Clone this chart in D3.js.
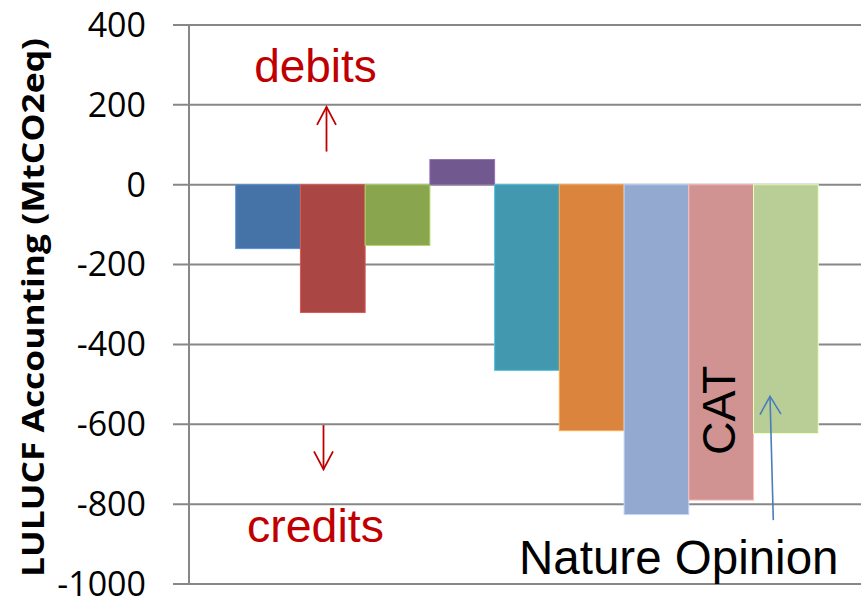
<!DOCTYPE html>
<html>
<head>
<meta charset="utf-8">
<script src="https://cdn.jsdelivr.net/npm/d3@7/dist/d3.min.js"></script>
<style>
  html, body { margin: 0; padding: 0; background: #fff; }
  svg { display: block; }
</style>
</head>
<body>
<svg id="chart" width="861" height="600"></svg>
<script>
// ---- data ----
const series = ["S1", "S2", "S3", "S4", "S5", "S6", "S7", "S8", "S9"];
const values = [-160, -320, -152, 63, -465, -616, -826, -790, -623];
const colors = ["#4572A7", "#AA4643", "#89A54E", "#71588F", "#4198AF",
                "#DB843D", "#93A9CF", "#D19392", "#B9CD96"];
const yTicks = [400, 200, 0, -200, -400, -600, -800, -1000];
const yLabel = "LULUCF Accounting (MtCO2eq)";

// ---- layout ----
const W = 861, H = 600;
const plot = { left: 189, right: 860, top: 25, bottom: 584 };
const svg = d3.select("#chart");

const y = d3.scaleLinear().domain([-1000, 400]).range([plot.bottom, plot.top]);
const x = d3.scaleBand().domain(series).range([plot.left, plot.right])
  .paddingInner(0).paddingOuter(0.683).align(0.528);

// gridlines + ticks
const grid = svg.append("g");
grid.selectAll("line").data(yTicks).join("line")
  .attr("x1", plot.left - 16).attr("x2", plot.right + 1)
  .attr("y1", d => y(d)).attr("y2", d => y(d))
  .attr("stroke", "#878787").attr("stroke-width", 2);

// y axis line
svg.append("line")
  .attr("x1", plot.left).attr("x2", plot.left)
  .attr("y1", y(400)).attr("y2", y(-1000))
  .attr("stroke", "#878787").attr("stroke-width", 2);

// tick labels
svg.append("g").selectAll("text").data(yTicks).join("text")
  .attr("x", 146).attr("y", d => y(d)).attr("dy", "0.35em")
  .attr("text-anchor", "end")
  .attr("font-family", "'Open Sans', sans-serif")
  .attr("font-size", 34)
  .attr("font-weight", 500)
  .attr("fill", "#000")
  .text(d => d);

// bars
svg.append("g").selectAll("rect").data(series).join("rect")
  .attr("x", d => x(d))
  .attr("width", x.bandwidth())
  .attr("y", (d, i) => y(Math.max(0, values[i])))
  .attr("height", (d, i) => Math.abs(y(values[i]) - y(0)))
  .attr("fill", (d, i) => colors[i])
  .attr("stroke", (d, i) => d3.color(colors[i]).brighter(0.7))
  .attr("stroke-width", 1);

// y axis title
svg.append("text")
  .attr("transform", `translate(44, ${(38 + 577) / 2}) rotate(-90)`)
  .attr("text-anchor", "middle")
  .attr("font-family", "'Open Sans', sans-serif")
  .attr("font-weight", "bold")
  .attr("font-size", 30)
  .attr("fill", "#000")
  .attr("textLength", 539)
  .attr("lengthAdjust", "spacingAndGlyphs")
  .text(yLabel);

// annotations
const red = "#C00000";
const ann = svg.append("g").attr("font-family", "'Liberation Sans', Arial, sans-serif");
ann.append("text").attr("x", 315.5).attr("y", y(257)).attr("text-anchor", "middle")
  .attr("font-size", 46).attr("fill", red).text("debits");
ann.append("text").attr("x", 315.5).attr("y", y(-894)).attr("text-anchor", "middle")
  .attr("font-size", 46.5).attr("fill", red).text("credits");

function arrow(x1, y1, x2, y2, color, w, headLen, headHalf) {
  const g = svg.append("g").attr("stroke", color).attr("stroke-width", w)
    .attr("fill", "none");
  g.append("line").attr("x1", x1).attr("y1", y1).attr("x2", x2).attr("y2", y2);
  const ang = Math.atan2(y2 - y1, x2 - x1);
  const bx = x2 - headLen * Math.cos(ang), by = y2 - headLen * Math.sin(ang);
  const px = -Math.sin(ang) * headHalf, py = Math.cos(ang) * headHalf;
  g.append("polyline")
    .attr("points", `${bx + px},${by + py} ${x2},${y2} ${bx - px},${by - py}`);
}
arrow(326.5, y(83), 326.5, y(195), red, 1.8, 18, 9.5);
arrow(323.5, y(-602), 323.5, y(-713), red, 1.8, 18, 9.5);
arrow(773.3, y(-840), 770, y(-530), "#4A7EBB", 1.6, 18, 10.5);

ann.append("text")
  .attr("transform", `translate(735, ${y(-677)}) rotate(-90)`)
  .attr("font-size", 46.5).attr("fill", "#000").text("CAT");
ann.append("text").attr("x", 519).attr("y", y(-975))
  .attr("font-size", 47.5).attr("fill", "#000").text("Nature Opinion");
</script>
</body>
</html>
